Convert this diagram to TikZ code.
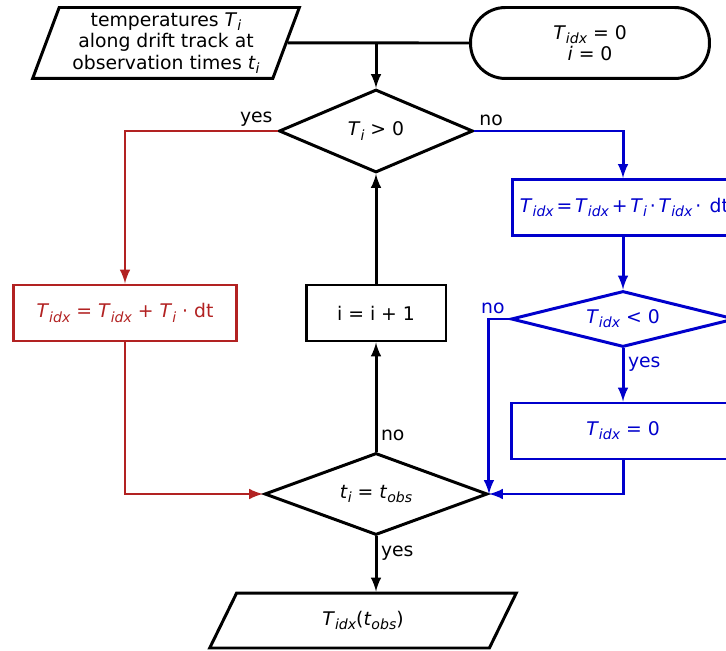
\documentclass[tikz,border=0pt]{standalone}
\usepackage{fontspec}
\setmainfont{DejaVu Sans}
\usepackage{tikz}
\usetikzlibrary{arrows,shapes.geometric}
\usetikzlibrary{positioning}
\tikzset{>=latex}
\definecolor{redline}{RGB}{178,34,34}
\definecolor{blueline}{RGB}{0,0,204}
\newcommand{\vr}[1]{\textit{#1}}
\newcommand{\ix}[1]{\raisebox{-0.4ex}{\fontsize{8}{8}\selectfont\itshape #1}}

\begin{document}
\begin{tikzpicture}[x=0.02cm, y=-0.02cm, line width=1.7pt,
	every node/.style={font=\fontsize{10.7}{12.2}\selectfont, align=center},
	box/.style={rectangle, draw, inner sep=0pt, minimum width=4.48cm, minimum height=1.12cm},
	test/.style={diamond, draw, inner sep=0pt, aspect=2},
	io/.style={trapezium, draw, inner sep=0pt, trapezium stretches=true},
	startbox/.style={rectangle, draw, rounded corners=0.7cm, inner sep=0pt, minimum width=4.78cm, minimum height=1.42cm},
	lbl/.style={inner sep=2pt}]
	\useasboundingbox (0,0) rectangle (726,651);
	\clip (0,0) rectangle (726,651);

	\node[io, trapezium left angle=69, trapezium right angle=111, minimum width=5.34cm, minimum height=1.42cm] (temp) at (166,43) {temperatures \vr{T}\ix{i}\\along drift track at\\observation times \vr{t}\ix{i}};
	\node[startbox] (init) at (590,43) {\vr{T}\ix{idx} = 0\\\vr{i} = 0};
	\node[test, minimum width=3.88cm, minimum height=1.66cm] (pos) at (376,131) {\vr{T}\ix{i} > 0};
	\node[box, draw=redline, text=redline] (warm) at (125,313) {\vr{T}\ix{idx} = \vr{T}\ix{idx} + \vr{T}\ix{i} · dt};
	\node[box, minimum width=2.8cm] (incr) at (376,313) {i = i + 1};
	\node[box, draw=blueline, text=blueline, anchor=west, inner xsep=0.06cm] (cold) at (511,207.5) {\spaceskip=0.15em\vr{T}\ix{idx} = \vr{T}\ix{idx} + \vr{T}\ix{i} · \vr{T}\ix{idx} ·\hspace{0.45em}dt};
	\node[test, draw=blueline, text=blueline, minimum width=4.48cm, minimum height=1.12cm] (neg) at (623,319) {\vr{T}\ix{idx} < 0};
	\node[box, draw=blueline, text=blueline] (zero) at (623,431) {\vr{T}\ix{idx} = 0};
	\node[test, minimum width=4.46cm, minimum height=1.64cm] (obs) at (376,494) {\vr{t}\ix{i} = \vr{t}\ix{obs}};
	\node[io, trapezium left angle=65, trapezium right angle=115, minimum width=6.14cm, minimum height=1.1cm] (out) at (363,620.5) {\vr{T}\ix{idx}(\vr{t}\ix{obs})};

	\draw (temp.east) -- (init.west);
	\draw[->] (temp.east -| pos.north) -- (pos.north);
	\draw[->, redline] (pos.west) -| node[lbl, pos=0, above left, text=black] {yes} (warm.north);
	\draw[->, redline] (warm.south) |- (obs.west);
	\draw[->, blueline] (pos.east) -| node[lbl, pos=0, above right, text=black] {no} (neg.north |- cold.north);
	\draw[->, blueline] (neg.north |- cold.south) -- (neg.north);
	\draw[->, blueline] (neg.south) -- node[lbl, pos=0.3, right] {yes} (zero.north);
	\draw[->, blueline] (neg.west) -| node[lbl, pos=0, above left] {no} (obs.east);
	\draw[->, blueline] (zero.south) |- (obs.east);
	\draw[->] (obs.north) -- node[lbl, pos=0.15, right] {no} (incr.south);
	\draw[->] (incr.north) -- (pos.south);
	\draw[->] (obs.south) -- node[lbl, pos=0.3, right] {yes} (obs.south |- out.north);
\end{tikzpicture}
\end{document}
